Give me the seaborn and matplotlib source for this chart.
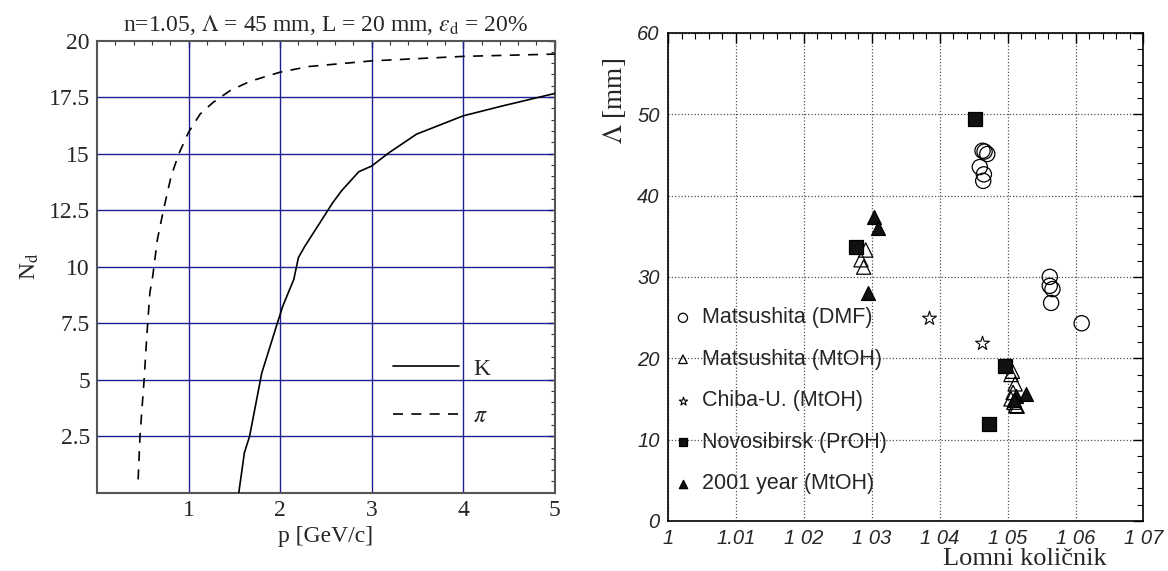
import matplotlib
matplotlib.use("Agg")
import matplotlib.pyplot as plt
import numpy as np
import pandas as pd
import seaborn as sns
from matplotlib.ticker import MultipleLocator, FixedLocator

# ---------------- data: left panel ----------------
k_p = [1.549, 1.61, 1.667, 1.80, 1.835, 1.97, 2.03, 2.15, 2.20, 2.27, 2.46, 2.57,
       2.67, 2.86, 3.00, 3.19, 3.49, 4.00, 4.42, 5.00]
k_n = [0.0, 1.77, 2.5, 5.3, 5.75, 7.5, 8.26, 9.44, 10.4, 10.9, 12.1, 12.8,
       13.35, 14.2, 14.45, 15.04, 15.86, 16.67, 17.1, 17.66]
pi_p = [0.45, 0.47, 0.515, 0.544, 0.578, 0.61, 0.66, 0.726, 0.81, 0.895, 1.0,
        1.127, 1.27, 1.46, 1.675, 2.0, 2.31, 3.0, 4.0, 5.0]
pi_n = [0.59, 2.5, 5.0, 6.9, 8.85, 9.6, 11.2, 12.5, 14.0, 15.0, 15.94,
        16.75, 17.27, 17.8, 18.2, 18.6, 18.85, 19.1, 19.3, 19.4]
left_xticks = [1, 2, 3, 4, 5]
left_yticks = [2.5, 5, 7.5, 10, 12.5, 15, 17.5, 20]
left_yticklabels = ["2.5", "5", "7.5", "10", "12.5", "15", "17.5", "20"]

# ---------------- data: right panel ----------------
dmf_n = [1.0463, 1.0466, 1.0470, 1.0459, 1.0465, 1.0464, 1.0562, 1.0562, 1.0566, 1.0564, 1.0609]
dmf_l = [45.5, 45.4, 45.1, 43.5, 42.6, 41.8, 30.0, 28.9, 28.5, 26.8, 24.3]
mtoh_n = [1.0291, 1.0284, 1.0288, 1.0507, 1.0505, 1.0511, 1.0508, 1.0505, 1.0509, 1.0512, 1.0514]
mtoh_l = [33.3, 32.1, 31.2, 18.4, 18.0, 16.85, 15.8, 15.0, 14.6, 14.2, 14.1]
chiba_n = [1.0384, 1.0462]
chiba_l = [24.9, 21.9]
novo_n = [1.0452, 1.0276, 1.0496, 1.0472]
novo_l = [49.4, 33.65, 19.0, 11.86]
y2001_n = [1.0303, 1.0309, 1.0294, 1.0512, 1.0527, 1.0510]
y2001_l = [37.3, 36.0, 28.0, 15.3, 15.6, 14.9]
right_xticks = [1.00, 1.01, 1.02, 1.03, 1.04, 1.05, 1.06, 1.07]
right_xticklabels = ["1", "1.01", "1 02", "1 03", "1 04", "1 05", "1 06", "1 07"]
right_yticks = [0, 10, 20, 30, 40, 50, 60]

sns.set_theme(style="white")
plt.rcParams["font.family"] = ["Liberation Serif", "DejaVu Serif"]
plt.rcParams["mathtext.fontset"] = "stix"

fig = plt.figure(figsize=(11.68, 5.71), dpi=100)
axL = fig.add_axes([0.083, 0.137, 0.392, 0.792])
axR = fig.add_axes([0.572, 0.0876, 0.407, 0.855])

# ================= left panel =================
grid_c = "#1f1f96"
for x in left_xticks[:-1]:
    axL.axvline(x, color=grid_c, lw=1.0, zorder=1)
for y in left_yticks[:-1]:
    axL.axhline(y, color=grid_c, lw=1.0, zorder=1)

dk = pd.DataFrame({"p": k_p, "N": k_n})
dpi_ = pd.DataFrame({"p": pi_p, "N": pi_n})
sns.lineplot(data=dk, x="p", y="N", ax=axL, sort=False, color="black", lw=1.2,
             label="K", zorder=3)
sns.lineplot(data=dpi_, x="p", y="N", ax=axL, sort=False, color="black", lw=1.2,
             label=r"$\pi$", zorder=3)
axL.lines[-1].set_dashes((6, 5))

axL.set_xlim(0, 5)
axL.set_ylim(0, 20)
axL.xaxis.set_major_locator(FixedLocator(left_xticks))
axL.yaxis.set_major_locator(FixedLocator(left_yticks))
axL.set_yticklabels(left_yticklabels)
axL.xaxis.set_minor_locator(MultipleLocator(0.2))
axL.yaxis.set_minor_locator(MultipleLocator(0.5))
axL.tick_params(which="both", direction="in", top=True, right=True,
                labelsize=17, color="#333333")
axL.tick_params(which="major", length=5, width=1, pad=5)
axL.tick_params(which="minor", length=3, width=0.8)
for s in axL.spines.values():
    s.set_color("#555555")
    s.set_linewidth(1.5)
axL.set_xlabel("p [GeV/c]", fontsize=17, labelpad=4)
axL.set_ylabel(r"N$_{\mathrm{d}}$", fontsize=17, labelpad=6)
axL.set_title(r"n=1.05, $\Lambda$ = 45 mm, L = 20 mm, $\varepsilon_{\mathrm{d}}$ = 20%",
              fontsize=17, pad=7)
legL = axL.legend(loc="upper left", bbox_to_anchor=(0.6, 0.345), frameon=False,
                  fontsize=17, handlelength=2.8, labelspacing=1.1, handletextpad=0.6)

# ================= right panel =================
axR.grid(True, which="major", color="#555555", lw=0.9, linestyle=(0, (1, 1.6)))
axR.set_axisbelow(True)

def scat(xs, ys, marker, s, fc, label, lw=0.9):
    d = pd.DataFrame({"n": xs, "L": ys})
    sns.scatterplot(data=d, x="n", y="L", ax=axR, marker=marker, s=s,
                    facecolor=fc, edgecolor="black", linewidth=lw, label=label,
                    zorder=3)

scat(dmf_n, dmf_l, "o", 120, "none", "Matsushita (DMF)")
scat(mtoh_n, mtoh_l, "^", 105, "none", "Matsushita (MtOH)")
scat(chiba_n, chiba_l, "*", 110, "white", "Chiba-U. (MtOH)", lw=0.8)
scat(novo_n, novo_l, "s", 95, "#111111", "Novosibirsk (PrOH)")
scat(y2001_n, y2001_l, "^", 100, "#111111", "2001 year (MtOH)")

axR.set_xlim(1.0, 1.07)
axR.set_ylim(0, 60)
axR.xaxis.set_major_locator(FixedLocator(right_xticks))
axR.set_xticklabels(right_xticklabels)
axR.yaxis.set_major_locator(FixedLocator(right_yticks))
axR.xaxis.set_minor_locator(MultipleLocator(0.002))
axR.yaxis.set_minor_locator(MultipleLocator(2))
axR.tick_params(which="both", direction="in", top=True, right=True, color="black")
axR.tick_params(which="major", length=7, width=1, labelsize=14.5, pad=6)
axR.tick_params(which="minor", length=4, width=0.8)
for lbl in axR.get_xticklabels() + axR.get_yticklabels():
    lbl.set_family(["Liberation Sans", "DejaVu Sans"])
    lbl.set_fontstyle("italic")
for s in axR.spines.values():
    s.set_color("black")
    s.set_linewidth(1.2)
axR.set_xlabel("Lomni količnik", fontsize=19)
axR.xaxis.set_label_coords(0.75, -0.055)
axR.set_ylabel(r"$\Lambda$ [mm]", fontsize=19.5)
axR.yaxis.set_label_coords(-0.085, 0.86)
legR = axR.legend(loc="upper left", bbox_to_anchor=(-0.005, 0.455), frameon=False,
                  markerscale=0.6, handlelength=0.8, handletextpad=0.5,
                  labelspacing=0.95, borderaxespad=0,
                  prop={"family": ["Liberation Sans", "DejaVu Sans"], "size": 15.5})

fig.savefig("out.png", dpi=100)
